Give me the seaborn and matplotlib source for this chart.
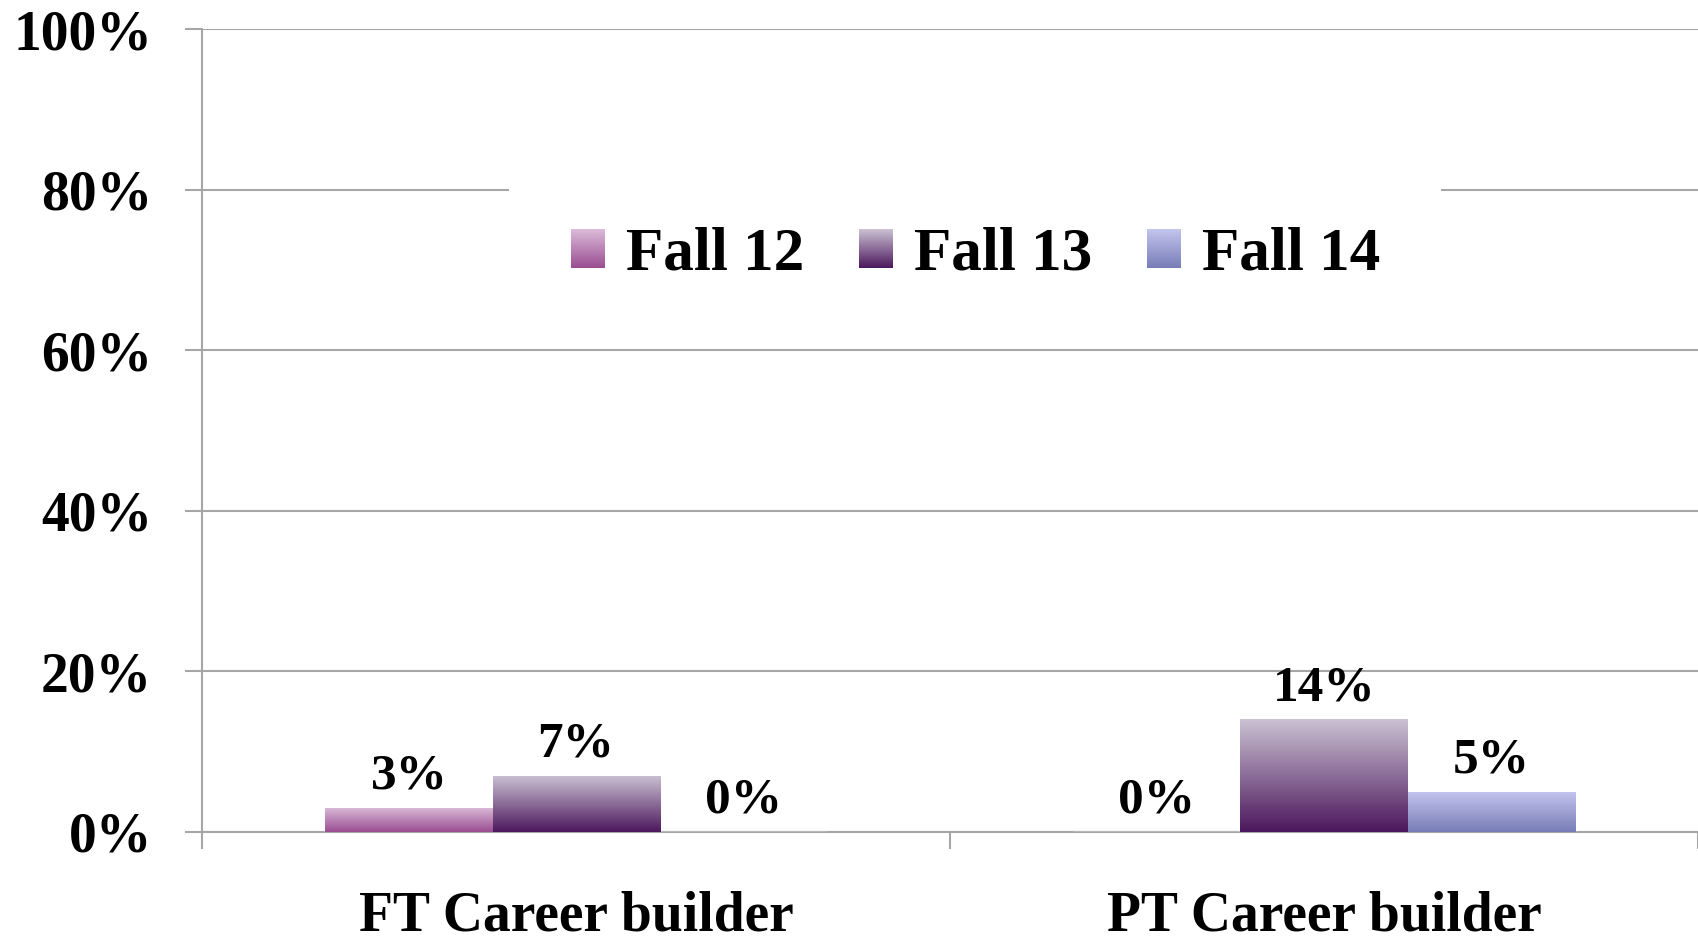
import numpy as np
import pandas as pd
import matplotlib
matplotlib.use("Agg")
import matplotlib.pyplot as plt
import matplotlib.patches as mpatches
from matplotlib.colors import LinearSegmentedColormap
from matplotlib.ticker import PercentFormatter
from matplotlib.legend_handler import HandlerBase
from matplotlib.image import BboxImage
from matplotlib.transforms import Bbox, TransformedBbox
import seaborn as sns

# chart data
categories = ["FT Career builder", "PT Career builder"]
terms = ["Fall 12", "Fall 13", "Fall 14"]
fall12 = [0.03, 0.00]
fall13 = [0.07, 0.14]
fall14 = [0.00, 0.05]

# gradient colours per term (top, bottom)
grad = {
    "Fall 12": ("#dcbcd9", "#994d91"),
    "Fall 13": ("#cbc2d3", "#4c175c"),
    "Fall 14": ("#c4c6ee", "#777cb6"),
}

df = pd.DataFrame({
    "category": categories * 3,
    "term": [t for t in terms for _ in categories],
    "value": fall12 + fall13 + fall14,
})

sns.set_theme(style="white")
plt.rcParams["font.family"] = ["Liberation Serif", "DejaVu Serif"]
plt.rcParams["font.weight"] = "bold"
plt.rcParams["text.color"] = "black"
plt.rcParams["xtick.color"] = "black"
plt.rcParams["ytick.color"] = "black"

fig = plt.figure(figsize=(16.98, 9.42), dpi=100)
ax = fig.add_axes([0.119, 0.117, 0.881, 0.852])

cmaps = {t: LinearSegmentedColormap.from_list(t, [grad[t][1], grad[t][0]]) for t in terms}
mid = {t: cmaps[t](0.5) for t in terms}
sns.barplot(data=df, x="category", y="value", hue="term", hue_order=terms,
            order=categories, palette=mid, width=0.67, errorbar=None,
            saturation=1, ax=ax, zorder=3)

ramp = np.linspace(0, 1, 256).reshape(-1, 1)

# paint vertical gradients into each bar
for cont, t in zip(ax.containers, terms):
    for p in cont.patches:
        h = p.get_height()
        if h <= 0:
            continue
        x0 = p.get_x()
        im = ax.imshow(ramp, cmap=cmaps[t], origin="lower", aspect="auto",
                       extent=[x0, x0 + p.get_width(), 0, h], zorder=3.5)
        im.set_clip_path(p)
    ax.bar_label(cont, labels=[f"{v*100:.0f}%" for v in cont.datavalues],
                 padding=6, fontsize=37, fontweight="bold", zorder=5)

ax.set_xlim(-0.5, 1.5)
ax.set_ylim(0, 1)
ax.set_aspect("auto")
ax.set_yticks(np.arange(0, 1.01, 0.2))
ax.yaxis.set_major_formatter(PercentFormatter(1.0, decimals=0))
ax.grid(axis="y", color="#a6a6a6", linewidth=1.5, zorder=0)
ax.set_axisbelow(True)
ax.set_xlabel("")
ax.set_ylabel("")

for s in ["top", "right"]:
    ax.spines[s].set_visible(False)
for s in ["left", "bottom"]:
    ax.spines[s].set_color("#a6a6a6")
    ax.spines[s].set_linewidth(1.5)

ax.tick_params(axis="y", labelsize=40, length=12, width=1.5, color="#a6a6a6",
               labelcolor="black", pad=24, left=True, direction="out")
ax.tick_params(axis="x", which="major", labelsize=40, length=0, pad=42,
               labelcolor="black")
ax.set_xticks([-0.5, 0.5, 1.5], minor=True)
ax.tick_params(axis="x", which="minor", length=12, width=1.5,
               color="#a6a6a6", bottom=True, direction="out")
for lab in ax.get_xticklabels() + ax.get_yticklabels():
    lab.set_fontweight("bold")


# legend keys with the same gradient as the bars
class GradHandler(HandlerBase):
    def create_artists(self, legend, orig_handle, xdescent, ydescent,
                       width, height, fontsize, trans):
        bb = TransformedBbox(Bbox.from_bounds(-xdescent, -ydescent, width, height), trans)
        img = BboxImage(bb, cmap=orig_handle.cmap, origin="lower")
        img.set_data(ramp)
        return [img]


class GradKey:
    def __init__(self, cmap):
        self.cmap = cmap


ax.get_legend().remove()
keys = [GradKey(cmaps[t]) for t in terms]
leg = ax.legend(keys, terms, handler_map={GradKey: GradHandler()},
                loc="center", bbox_to_anchor=(0.517, 0.719),
                ncol=3, frameon=True, facecolor="white", edgecolor="none",
                framealpha=1, fancybox=False, prop={"size": 44, "weight": "bold"},
                handlelength=0.55, handleheight=0.6, handletextpad=0.35,
                columnspacing=0.9, borderpad=1.0)
leg.set_zorder(6)

fig.savefig("out.png", dpi=100)
